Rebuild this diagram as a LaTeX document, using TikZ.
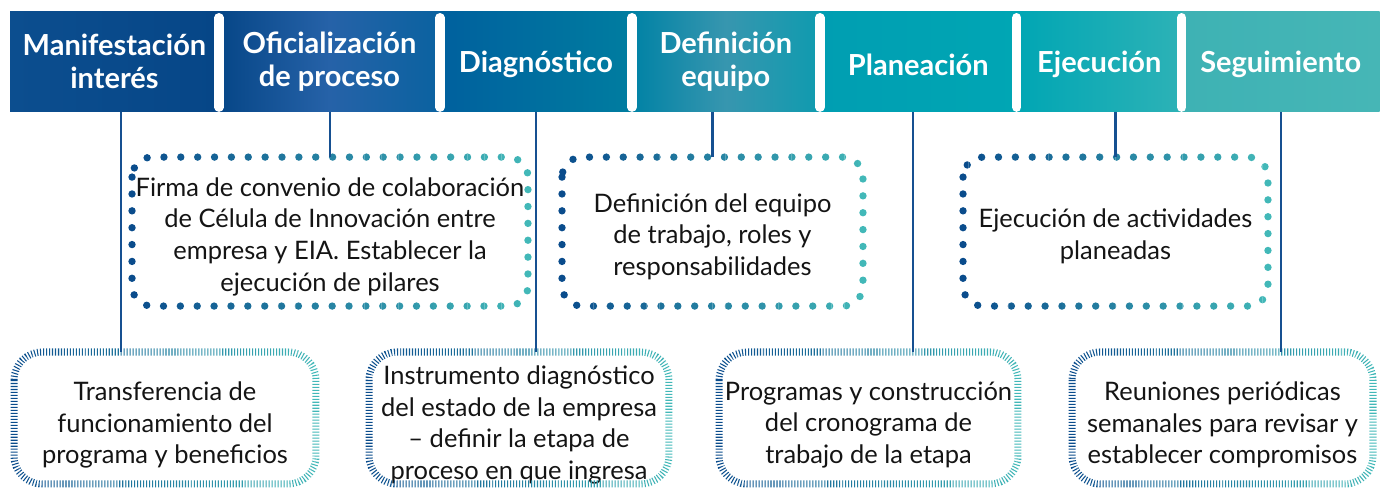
\documentclass[tikz,border=0pt]{standalone}
\usepackage{fontspec}
\setmainfont{Lato}
\usetikzlibrary{positioning,calc}
\definecolor{ciNavy}{RGB}{10,76,140}
\definecolor{ciTeal}{RGB}{66,184,184}
\definecolor{ciLine}{RGB}{22,80,145}
\definecolor{ciInk}{RGB}{20,20,20}
% header tones, left to right
\definecolor{ciA}{RGB}{12,78,143}
\definecolor{ciB}{RGB}{6,70,135}
\definecolor{ciC}{RGB}{38,98,168}
\definecolor{ciD}{RGB}{10,98,160}
\definecolor{ciE}{RGB}{0,96,158}
\definecolor{ciF}{RGB}{0,125,160}
\definecolor{ciG}{RGB}{0,130,165}
\definecolor{ciH}{RGB}{55,150,175}
\definecolor{ciI}{RGB}{15,155,175}
\definecolor{ciJ}{RGB}{0,158,178}
\definecolor{ciK}{RGB}{0,166,180}
\definecolor{ciL}{RGB}{45,178,182}
\definecolor{ciM}{RGB}{62,178,180}
\definecolor{ciN}{RGB}{70,182,182}
\tikzset{
    stage/.style={rectangle, inner sep=0pt, outer sep=0pt, minimum height=2.02cm,
                  font=\fontsize{16.5}{18.7}\selectfont\bfseries, text=white, align=center},
    single/.style={stage, text height=1.6em},
    note/.style={rectangle, inner sep=0pt, outer sep=0pt, align=center, text=ciInk,
                 font=\fontsize{14.5}{18}\selectfont},
    dotrim/.style={line width=4.2pt, line cap=round, dash pattern=on 0pt off 9.6pt,
                   rounded corners=0.4cm},
    tickrim/.style={line width=4pt, dash pattern=on 0.6pt off 1.1pt, rounded corners=0.56cm},
    gap/.style={draw=white, line width=5.3pt, line cap=round},
    link/.style={draw=ciLine, line width=1.4pt}
}
% border with a left-to-right colour run, drawn strip by strip
% #1 node, #2 rim style, #3 lift of the rim over the text
\newcommand\rimshade[3]{%
  \path (#1.north west) ++(-8,-20) coordinate (rimA);
  \path (#1.south east) ++(8,20) coordinate (rimB);
  \foreach \k in {0,...,23}{
    \pgfmathsetmacro\pct{100*\k/23}
    \colorlet{rimtone}{ciTeal!\pct!ciNavy}
    \begin{scope}
      \clip let \p1=(rimA), \p2=(rimB) in
        ({\x1+(\x2-\x1)*\k/24},\y1) rectangle ({\x1+(\x2-\x1)*(\k+1)/24},\y2);
      \draw[#2, draw=rimtone] ([yshift=#3]#1.north west) rectangle ([yshift=#3]#1.south east);
    \end{scope}
  }%
  \coordinate (#1-top) at ([yshift=#3]#1.north);
}

\begin{document}
\begin{tikzpicture}[x=0.02cm, y=-0.02cm]
  \useasboundingbox (0,0) rectangle (1382,487);

  % Stages
  \node[stage, anchor=north west, minimum width=4.18cm,
        left color=ciA, right color=ciB] (s1) at (10,11) {Manifestación\\interés};
  \node[stage, right=0pt of s1, minimum width=4.42cm,
        left color=ciB, right color=ciD, middle color=ciC] (s2) {Oficialización\\de proceso};
  \node[single, right=0pt of s2, minimum width=3.84cm,
        left color=ciE, right color=ciF] (s3) {Diagnóstico};
  \node[stage, right=0pt of s3, minimum width=3.76cm,
        left color=ciG, right color=ciI, middle color=ciH] (s4) {Definición\\equipo};
  \node[single, right=0pt of s4, minimum width=3.94cm,
        left color=ciJ, right color=ciK] (s5) {Planeación};
  \node[single, right=0pt of s5, minimum width=3.30cm,
        left color=ciK, right color=ciL] (s6) {Ejecución};
  \node[single, right=0pt of s6, minimum width=3.96cm,
        left color=ciM, right color=ciN] (s7) {Seguimiento};

  % Separators
  \foreach \a in {s1,s2,s3,s4,s5,s6}
    \draw[gap] ([yshift=-3.8pt]\a.north east) -- ([yshift=2.7pt]\a.south east);

  % Upper notes
  \node[note, minimum width=7.92cm, minimum height=2.98cm] (up1) at (330,236.5)
    {Firma de convenio de colaboración\\de Célula de Innovación entre\\empresa y EIA. Establecer la\\ejecución de pilares};
  \node[note, minimum width=6.02cm, minimum height=2.98cm] (up2) at (712.5,236.5)
    {Definición del equipo\\de trabajo, roles y\\responsabilidades};
  \node[note, minimum width=6.10cm, minimum height=2.98cm] (up3) at (1115.5,236.5)
    {Ejecución de actividades\\planeadas};

  % Lower notes
  \node[note, minimum width=6.04cm, minimum height=2.64cm] (low1) at (165,425)
    {Transferencia de\\funcionamiento del\\programa y beneficios};
  \node[note, minimum width=6.00cm, minimum height=2.64cm] (low2) at (519,425)
    {Instrumento diagnóstico\\del estado de la empresa\\– definir la etapa de\\proceso en que ingresa};
  \node[note, minimum width=5.98cm, minimum height=2.64cm] (low3) at (868.5,425)
    {Programas y construcción\\del cronograma de\\trabajo de la etapa};
  \node[note, minimum width=6.02cm, minimum height=2.64cm] (low4) at (1222.5,425)
    {Reuniones periódicas\\semanales para revisar y\\establecer compromisos};

  % Borders
  \foreach \b in {up1,up2,up3}{\rimshade{\b}{dotrim}{2.8pt}}
  \foreach \b in {low1,low2,low3,low4}{\rimshade{\b}{tickrim}{4pt}}

  % Links
  \coordinate (k1) at ([xshift=0.13cm]s1.south);
  \coordinate (k5) at ([xshift=-0.11cm]s5.south);
  \draw[link] (k1) -- (k1 |- low1-top);
  \draw[link] (up1-top |- s2.south) -- (up1-top);
  \draw[link] (s3.south) -- (s3.south |- low2-top);
  \draw[link] (up2-top |- s4.south) -- (up2-top);
  \draw[link] (k5) -- (k5 |- low3-top);
  \draw[link] (up3-top |- s6.south) -- (up3-top);
  \draw[link] (s7.south) -- (s7.south |- low4-top);
\end{tikzpicture}
\end{document}
